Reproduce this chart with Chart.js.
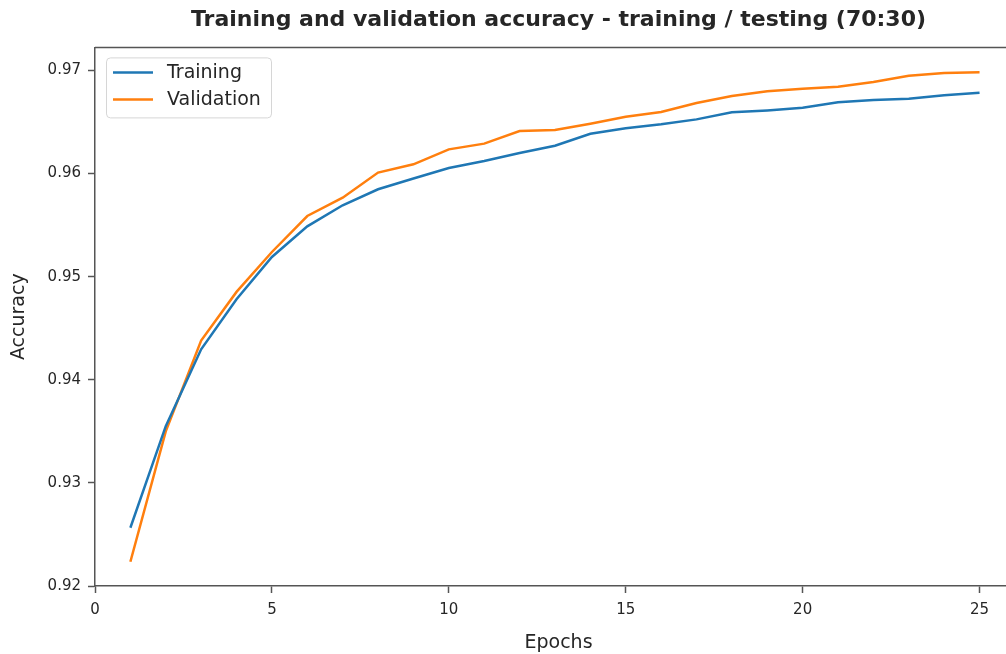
<!DOCTYPE html>
<html>
<head>
<meta charset="utf-8">
<title>Training and validation accuracy</title>
<script src="https://cdn.jsdelivr.net/npm/chart.js@4.4.1/dist/chart.umd.min.js"></script>
<style>
  html, body { margin: 0; padding: 0; background: #fff; overflow: hidden; }
  #wrap { width: 1030px; height: 654px; position: relative; }
</style>
</head>
<body>
<div id="wrap"><canvas id="accChart"></canvas></div>
<script>
// data
const epochs = [1, 2, 3, 4, 5, 6, 7, 8, 9, 10, 11, 12, 13, 14, 15, 16, 17, 18, 19, 20, 21, 22, 23, 24, 25];
const trainingAcc = [0.92565, 0.93550, 0.94295, 0.94781, 0.95191, 0.95488, 0.95692, 0.95847, 0.95951, 0.96053,
                     0.96121, 0.96199, 0.96270, 0.96386, 0.96438, 0.96477, 0.96525, 0.96593, 0.96612, 0.96638,
                     0.96690, 0.96712, 0.96726, 0.96758, 0.96784];
const validationAcc = [0.92235, 0.93500, 0.94380, 0.94852, 0.95239, 0.95588, 0.95766, 0.96009, 0.96089, 0.96234,
                       0.96290, 0.96412, 0.96422, 0.96483, 0.96551, 0.96596, 0.96683, 0.96751, 0.96797, 0.96823,
                       0.96842, 0.96887, 0.96949, 0.96974, 0.96981];
const xTicks = [0, 5, 10, 15, 20, 25];
const yTicks = [0.92, 0.93, 0.94, 0.95, 0.96, 0.97];

const FONT = "'DejaVu Sans', sans-serif";
const TEXT = '#262626';
const SPINE = '#555555';

function points(ys) {
  return epochs.map((e, i) => ({ x: e, y: ys[i] }));
}

// top spine + matplotlib style legend inside the axes
const frameAndLegend = {
  id: 'frameAndLegend',
  afterDatasetsDraw(chart) {
    const { ctx, chartArea: a } = chart;
    ctx.save();
    ctx.strokeStyle = SPINE;
    ctx.lineWidth = 1.5;
    ctx.beginPath();
    ctx.moveTo(a.left, a.top);
    ctx.lineTo(a.right, a.top);
    ctx.lineTo(a.right, a.bottom);
    ctx.stroke();

    const bx = a.left + 11, by = a.top + 10, bw = 165, bh = 60;
    ctx.fillStyle = 'rgba(255,255,255,0.8)';
    ctx.strokeStyle = '#d6d6d6';
    ctx.lineWidth = 1;
    ctx.beginPath();
    ctx.roundRect(bx + 0.5, by + 0.5, bw, bh, 4);
    ctx.fill();
    ctx.stroke();

    ctx.font = '19px ' + FONT;
    ctx.textBaseline = 'middle';
    chart.data.datasets.forEach((ds, i) => {
      const y = by + 15 + i * 27;
      ctx.strokeStyle = ds.borderColor;
      ctx.lineWidth = 2.5;
      ctx.beginPath();
      ctx.moveTo(bx + 7, y);
      ctx.lineTo(bx + 47, y);
      ctx.stroke();
      ctx.fillStyle = TEXT;
      ctx.fillText(ds.label, bx + 61, y + 1);
    });
    ctx.restore();
  }
};

new Chart(document.getElementById('accChart'), {
  type: 'line',
  data: {
    datasets: [
      {
        label: 'Training',
        data: points(trainingAcc),
        borderColor: '#1f77b4',
        borderWidth: 2.5,
        pointRadius: 0,
        tension: 0
      },
      {
        label: 'Validation',
        data: points(validationAcc),
        borderColor: '#ff7f0e',
        borderWidth: 2.5,
        pointRadius: 0,
        tension: 0
      }
    ]
  },
  options: {
    responsive: true,
    maintainAspectRatio: false,
    animation: false,
    layout: { padding: { left: 0, right: 8, top: 0, bottom: 0 } },
    plugins: {
      legend: { display: false },
      tooltip: { enabled: false },
      title: {
        display: true,
        fullSize: false,
        text: 'Training and validation accuracy - training / testing (70:30)',
        color: TEXT,
        font: { family: FONT, size: 22, weight: 'bold' },
        padding: { top: 7, bottom: 14 }
      }
    },
    scales: {
      x: {
        type: 'linear',
        min: 0,
        max: 26.2,
        afterBuildTicks: (s) => { s.ticks = xTicks.map(v => ({ value: v })); },
        afterFit: (s) => { s.height = 68; },
        grid: { drawOnChartArea: false, drawTicks: true, tickLength: 7, tickColor: SPINE, tickWidth: 1.5 },
        border: { display: true, color: SPINE, width: 1.5 },
        ticks: { padding: 8, color: TEXT, font: { family: FONT, size: 15 }, maxRotation: 0 },
        title: { display: true, text: 'Epochs', color: TEXT, font: { family: FONT, size: 19 }, padding: { top: 0, bottom: 0 } }
      },
      y: {
        min: 0.92,
        max: 0.97223,
        afterBuildTicks: (s) => { s.ticks = yTicks.map(v => ({ value: v })); },
        afterFit: (s) => { s.width = 95; },
        grid: { drawOnChartArea: false, drawTicks: true, tickLength: 7, tickColor: SPINE, tickWidth: 1.5 },
        border: { display: true, color: SPINE, width: 1.5 },
        ticks: { padding: 7, color: TEXT, font: { family: FONT, size: 15 }, callback: (v) => v.toFixed(2) },
        title: { display: true, text: 'Accuracy', color: TEXT, font: { family: FONT, size: 19 }, padding: { top: 8, bottom: 8 } }
      }
    }
  },
  plugins: [frameAndLegend]
});
</script>
</body>
</html>
